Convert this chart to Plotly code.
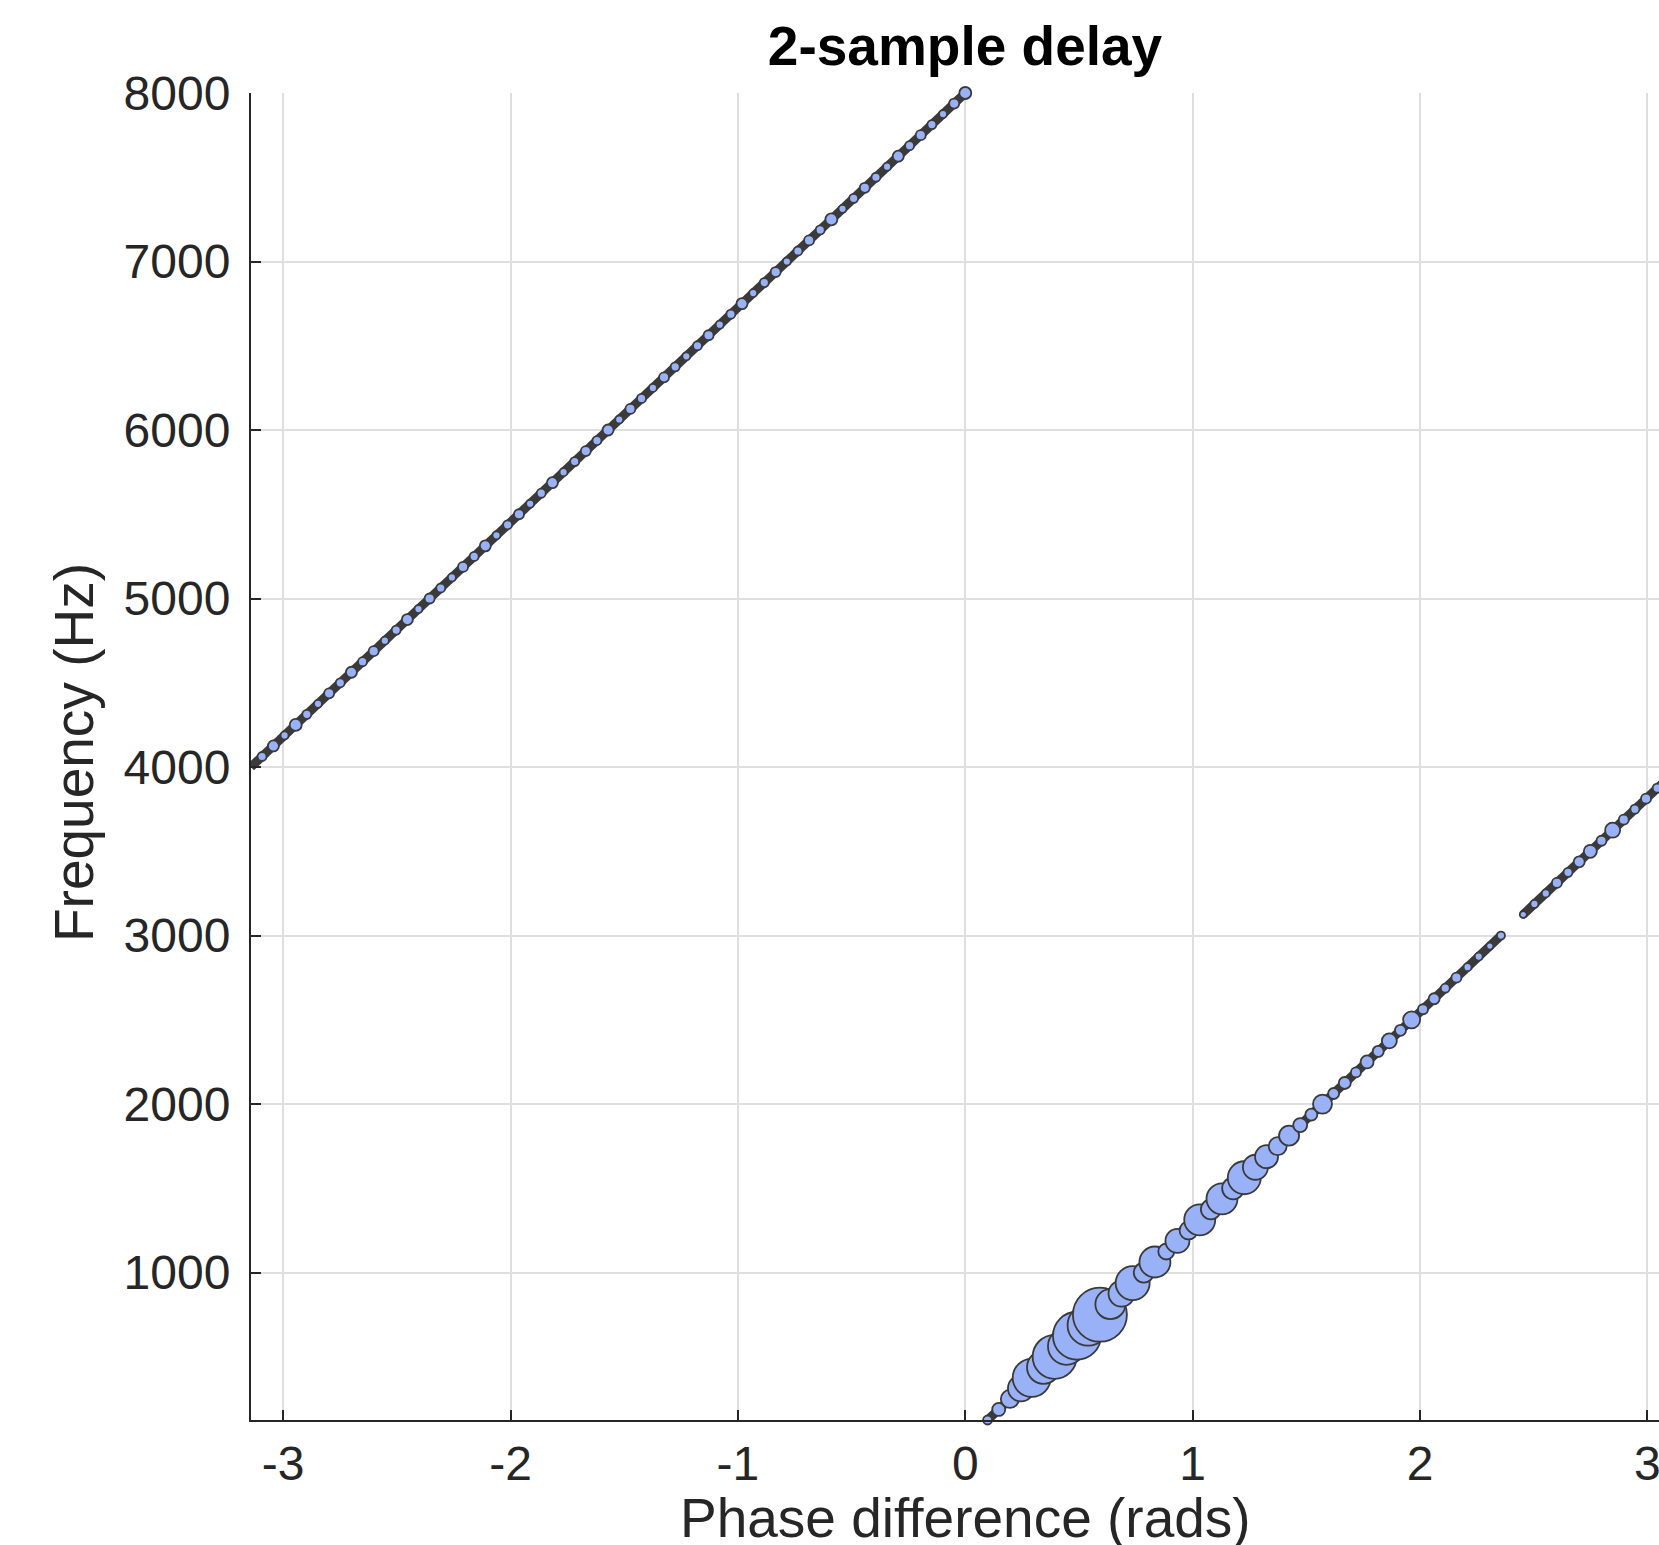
import plotly.graph_objects as go

# ---- data (phase in rad, frequency in Hz, marker diameter in px) ----
low_a_freq = [125, 187.5, 250, 312.5, 375, 437.5, 500, 562.5, 625, 687.5, 750, 812.5, 875, 937.5,
              1000, 1062.5, 1125, 1187.5, 1250, 1312.5, 1375, 1437.5, 1500, 1562.5, 1625, 1687.5,
              1750, 1812.5, 1875, 1937.5, 2000, 2062.5, 2125, 2187.5, 2250, 2312.5, 2375, 2437.5,
              2500, 2562.5, 2625, 2687.5, 2750, 2812.5, 2875, 2937.5, 3000]
low_a_phase = [0.098, 0.147, 0.196, 0.245, 0.292, 0.344, 0.393, 0.445, 0.491, 0.540, 0.592, 0.638,
               0.687, 0.736, 0.785, 0.834, 0.884, 0.933, 0.982, 1.031, 1.080, 1.129, 1.178, 1.227,
               1.276, 1.325, 1.374, 1.424, 1.473, 1.522, 1.571, 1.620, 1.669, 1.718, 1.767, 1.816,
               1.865, 1.914, 1.963, 2.013, 2.062, 2.111, 2.160, 2.209, 2.258, 2.307, 2.356]
low_a_size = [9, 13, 18, 26, 38, 33, 44, 37, 48, 41, 54, 30, 26, 34, 20, 31, 16, 24, 18, 31, 20, 31,
              22, 33, 25, 23, 18, 20, 14, 12, 19, 11, 12, 10, 13, 11, 15, 11, 17, 10, 11, 9, 10, 8,
              8, 7, 8]

low_b_freq = [3125, 3187.5, 3250, 3312.5, 3375, 3437.5, 3500, 3562.5, 3625, 3687.5, 3750, 3812.5,
              3875, 3937.5]
low_b_phase = [2.454, 2.503, 2.553, 2.602, 2.651, 2.700, 2.749, 2.798, 2.847, 2.896, 2.945, 2.994,
               3.043, 3.093]
low_b_size = [7, 8, 8, 10, 9, 11, 13, 10, 15, 10, 9, 10, 9, 8]

high_freq = [4000, 4062.5, 4125, 4187.5, 4250, 4312.5, 4375, 4437.5, 4500, 4562.5, 4625, 4687.5,
             4750, 4812.5, 4875, 4937.5, 5000, 5062.5, 5125, 5187.5, 5250, 5312.5, 5375, 5437.5,
             5500, 5562.5, 5625, 5687.5, 5750, 5812.5, 5875, 5937.5, 6000, 6062.5, 6125, 6187.5,
             6250, 6312.5, 6375, 6437.5, 6500, 6562.5, 6625, 6687.5, 6750, 6812.5, 6875, 6937.5,
             7000, 7062.5, 7125, 7187.5, 7250, 7312.5, 7375, 7437.5, 7500, 7562.5, 7625, 7687.5,
             7750, 7812.5, 7875, 7937.5, 8000]
high_phase = [-3.142, -3.093, -3.043, -2.994, -2.945, -2.896, -2.847, -2.798, -2.749, -2.700,
              -2.651, -2.602, -2.553, -2.503, -2.454, -2.405, -2.356, -2.307, -2.258, -2.209,
              -2.160, -2.111, -2.062, -2.013, -1.963, -1.914, -1.865, -1.816, -1.767, -1.718,
              -1.669, -1.620, -1.571, -1.522, -1.473, -1.424, -1.374, -1.325, -1.276, -1.227,
              -1.178, -1.129, -1.080, -1.031, -0.982, -0.933, -0.884, -0.834, -0.785, -0.736,
              -0.687, -0.638, -0.589, -0.540, -0.491, -0.442, -0.393, -0.344, -0.295, -0.245,
              -0.196, -0.147, -0.098, -0.049, 0.000]
high_size = [10, 9, 11, 8, 12, 9, 8, 10, 9, 11, 9, 10, 8, 9, 11, 8, 10, 9, 8, 10, 9, 11, 8, 9, 10,
             8, 9, 11, 8, 9, 10, 9, 11, 8, 10, 9, 8, 10, 9, 8, 9, 10, 8, 9, 11, 8, 9, 10, 8, 9, 10,
             9, 12, 8, 9, 10, 9, 8, 11, 9, 10, 9, 8, 10, 12]

x_ticks = [-3, -2, -1, 0, 1, 2, 3]
y_ticks = [1000, 2000, 3000, 4000, 5000, 6000, 7000, 8000]
x_range = [-3.1416, 3.051]
y_range = [125, 8000]

FILL = "rgb(153,177,247)"
EDGE = "rgb(58,58,58)"
FONT = "Liberation Sans, Arial, Helvetica, sans-serif"
INK = "rgb(38,38,38)"

W, H = 1659, 1545
L, R, T, B = 251, 0, 93, 125
PW, PH = W - L - R, H - T - B

fig = go.Figure()
for fx, fy, fs, lw in [(low_a_phase, low_a_freq, low_a_size, 9),
                       (low_b_phase, low_b_freq, low_b_size, 9),
                       (high_phase, high_freq, high_size, 9)]:
    fig.add_trace(go.Scatter(x=fx, y=fy, mode="lines", line=dict(color=EDGE, width=lw),
                             cliponaxis=False, hoverinfo="skip", showlegend=False))
    fig.add_trace(go.Scatter(x=fx, y=fy, mode="markers", cliponaxis=False, showlegend=False,
                             marker=dict(size=fs, color=FILL, opacity=1,
                                         line=dict(color=EDGE, width=1.8))))

fig.update_layout(
    width=W, height=H,
    margin=dict(l=L, r=R, t=T, b=B, autoexpand=False),
    paper_bgcolor="white", plot_bgcolor="white",
    font=dict(family=FONT, color=INK),
    title=dict(text="<b>2-sample delay</b>", x=(965 - L) / PW, xref="paper", xanchor="center",
               y=1 - 46 / H, yref="container", yanchor="middle",
               font=dict(size=55, color="black", family=FONT)),
    annotations=[
        dict(text="Phase difference (rads)", xref="paper", yref="paper",
             x=(965 - L) / PW, y=-98 / PH, xanchor="center", yanchor="middle",
             showarrow=False, font=dict(size=55, color=INK, family=FONT)),
        dict(text="Frequency (Hz)", xref="paper", yref="paper",
             x=(74 - L) / PW, y=(H - B - 753) / PH, xanchor="center", yanchor="middle",
             textangle=-90, showarrow=False, font=dict(size=55, color=INK, family=FONT)),
    ],
)
fig.update_xaxes(range=x_range, tickvals=x_ticks, ticktext=[str(v) for v in x_ticks],
                 automargin=False, ticklabeloverflow="allow",
                 showgrid=True, gridcolor="rgb(223,223,223)", gridwidth=1.5,
                 zeroline=False, showline=True, linecolor=INK, linewidth=2,
                 ticks="inside", ticklen=10, tickwidth=2, tickcolor=INK,
                 tickfont=dict(size=48, color=INK), ticklabelstandoff=0)
fig.update_yaxes(range=y_range, tickvals=y_ticks, ticktext=[str(v) for v in y_ticks],
                 automargin=False, ticklabeloverflow="allow",
                 showgrid=True, gridcolor="rgb(223,223,223)", gridwidth=1.5,
                 zeroline=False, showline=True, linecolor=INK, linewidth=2,
                 ticks="inside", ticklen=10, tickwidth=2, tickcolor=INK,
                 tickfont=dict(size=48, color=INK), ticklabelstandoff=9)

# remove the default 8px page margin so the figure fills the window exactly
fig.write_html("out.html", config={"displayModeBar": False},
               post_script="document.body.style.margin='0';document.body.style.overflow='hidden';")
